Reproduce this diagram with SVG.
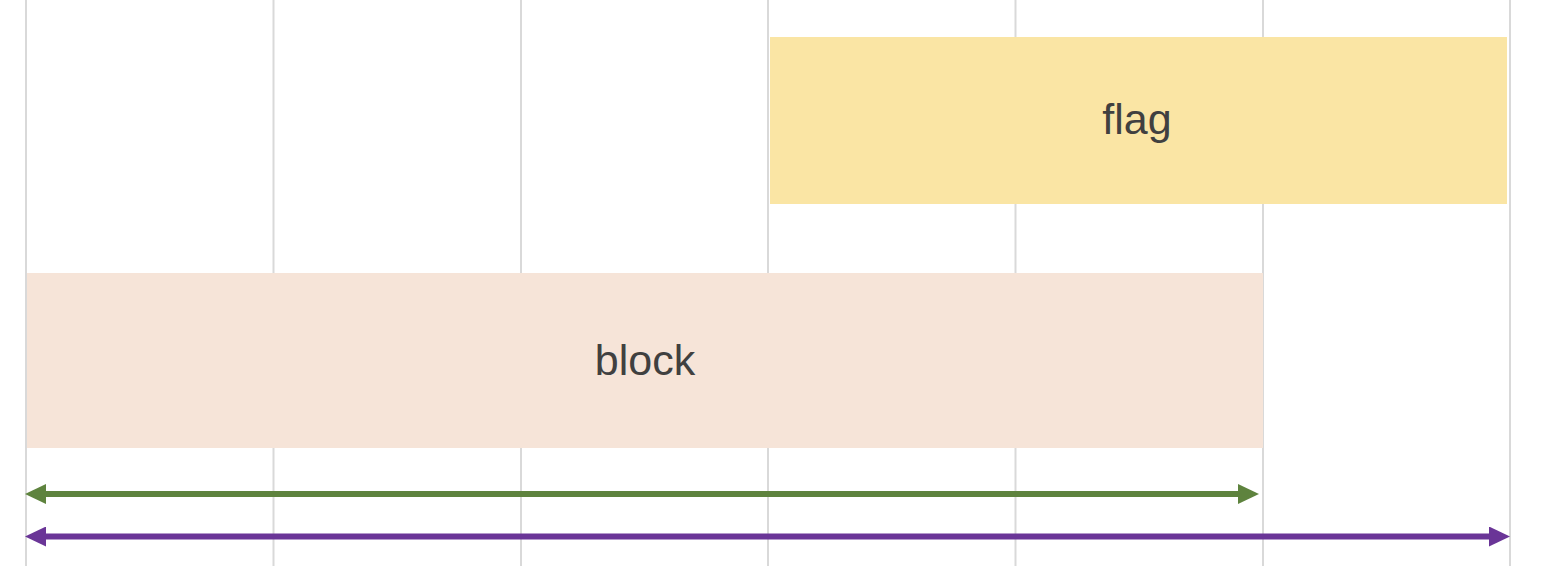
<svg xmlns="http://www.w3.org/2000/svg" width="1544" height="566" viewBox="0 0 1544 566">
<style>
.grid{stroke:#d9d9d9;stroke-width:2;fill:none}
.lbl{font-family:"Liberation Sans",Arial,sans-serif;font-size:43px;fill:#404040;text-anchor:middle}
.green{stroke:#5e833e;stroke-width:6;fill:none}
.purple{stroke:#6a3597;stroke-width:6;fill:none}
</style>
<defs>
<marker id="gh" viewBox="0 0 21 20" refX="0" refY="10" markerWidth="21" markerHeight="20" markerUnits="userSpaceOnUse" orient="auto-start-reverse"><path d="M0,0 L21,10 L0,20 Z" fill="#5e833e"/></marker>
<marker id="ph" viewBox="0 0 21 20" refX="0" refY="10" markerWidth="21" markerHeight="20" markerUnits="userSpaceOnUse" orient="auto-start-reverse"><path d="M0,0 L21,10 L0,20 Z" fill="#6a3597"/></marker>
</defs>
<rect width="1544" height="566" fill="#ffffff"/>
<g id="grid">
<line class="grid" x1="26" y1="0" x2="26" y2="566"/>
<line class="grid" x1="273.5" y1="0" x2="273.5" y2="566"/>
<line class="grid" x1="521" y1="0" x2="521" y2="566"/>
<line class="grid" x1="768" y1="0" x2="768" y2="566"/>
<line class="grid" x1="1015.5" y1="0" x2="1015.5" y2="566"/>
<line class="grid" x1="1263" y1="0" x2="1263" y2="566"/>
<line class="grid" x1="1510" y1="0" x2="1510" y2="566"/>
</g>
<g id="flag">
<rect x="770" y="37" width="737" height="167" fill="#fae5a4"/>
<text class="lbl" x="1137" y="134">flag</text>
</g>
<g id="block">
<rect x="27" y="273" width="1236" height="175" fill="#f6e4d8"/>
<text class="lbl" x="645" y="375">block</text>
</g>
<g id="connectors">
<line class="green" x1="46" y1="494" x2="1238" y2="494" marker-start="url(#gh)" marker-end="url(#gh)"/>
<line class="purple" x1="46" y1="536.5" x2="1489" y2="536.5" marker-start="url(#ph)" marker-end="url(#ph)"/>
</g>
</svg>
